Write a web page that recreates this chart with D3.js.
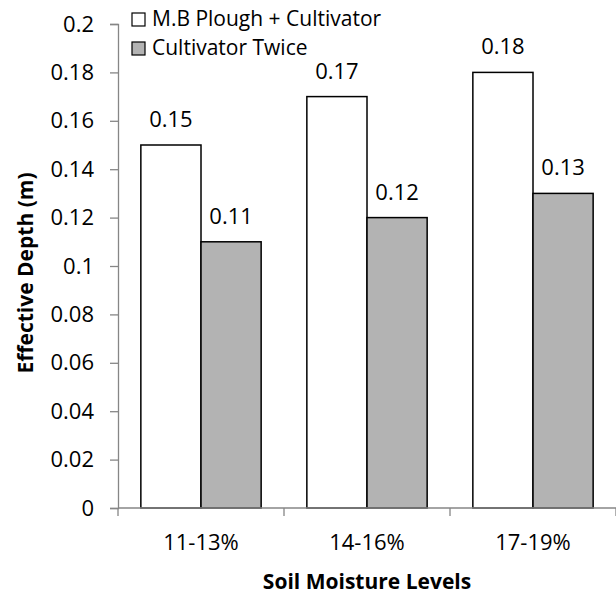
<!DOCTYPE html>
<html>
<head>
<meta charset="utf-8">
<script src="https://cdn.jsdelivr.net/npm/d3@7"></script>
<style>
  body { margin: 0; background: #fff; }
  svg text { font-family: 'Open Sans', sans-serif; fill: #000; }
</style>
</head>
<body>
<div id="chart"></div>
<script>
const categories = ['11-13%', '14-16%', '17-19%']
const seriesNames = ['M.B Plough + Cultivator', 'Cultivator Twice']
const ploughCultivator = [0.15, 0.17, 0.18]
const cultivatorTwice = [0.11, 0.12, 0.13]
const yTicks = [0, 0.02, 0.04, 0.06, 0.08, 0.1, 0.12, 0.14, 0.16, 0.18, 0.2]

const width = 616
const height = 596
const margin = { top: 24, right: 0, bottom: 88, left: 118 }
const colors = ['#ffffff', '#b3b3b3']
const axisColor = '#868686'
const fontSize = '22px'
const titleSize = '21px'

const data = categories.map((c, i) => ({
  category: c,
  values: [ploughCultivator[i], cultivatorTwice[i]]
}))

const svg = d3
  .select('#chart')
  .append('svg')
  .attr('width', width)
  .attr('height', height)

const x = d3
  .scaleBand()
  .domain(categories)
  .range([margin.left, width - margin.right])

const x1 = d3
  .scaleBand()
  .domain([0, 1])
  .range([0, x.bandwidth()])
  .paddingOuter(0.38)
  .paddingInner(0)

const y = d3
  .scaleLinear()
  .domain([0, 0.2])
  .range([height - margin.bottom, margin.top])

// bars
const groups = svg
  .append('g')
  .selectAll('g')
  .data(data)
  .join('g')
  .attr('transform', d => `translate(${x(d.category)},0)`)

groups
  .selectAll('rect')
  .data(d => d.values.map((v, k) => ({ v, k })))
  .join('rect')
  .attr('x', d => x1(d.k))
  .attr('y', d => y(d.v))
  .attr('width', x1.bandwidth())
  .attr('height', d => y(0) - y(d.v))
  .attr('fill', d => colors[d.k])
  .attr('stroke', '#000')
  .attr('stroke-width', 1.5)

groups
  .selectAll('text')
  .data(d => d.values.map((v, k) => ({ v, k })))
  .join('text')
  .attr('x', d => x1(d.k) + x1.bandwidth() / 2)
  .attr('y', d => y(d.v) - 18)
  .attr('text-anchor', 'middle')
  .style('font-size', fontSize)
  .text(d => d3.format('.2f')(d.v))

// y axis
const yAxis = svg
  .append('g')
  .attr('transform', `translate(${margin.left},0)`)
  .call(
    d3.axisLeft(y)
      .tickValues(yTicks)
      .tickSize(8)
      .tickPadding(16)
      .tickFormat(d => (d === 0 ? '0' : String(+d.toFixed(2))))
  )
yAxis.select('.domain').attr('stroke', axisColor).attr('stroke-width', 1.3)
yAxis.selectAll('.tick line').attr('stroke', axisColor).attr('stroke-width', 1.3)
yAxis.selectAll('.tick text').style('font-size', fontSize).attr('fill', '#000')

// x axis
const xAxis = svg
  .append('g')
  .attr('transform', `translate(0,${y(0)})`)
xAxis
  .append('line')
  .attr('x1', margin.left)
  .attr('x2', width)
  .attr('stroke', axisColor)
  .attr('stroke-width', 1.3)
xAxis
  .selectAll('line.tk')
  .data(categories.concat(['end']))
  .join('line')
  .attr('class', 'tk')
  .attr('x1', (d, i) => margin.left + i * x.step())
  .attr('x2', (d, i) => margin.left + i * x.step())
  .attr('y1', 0)
  .attr('y2', 8)
  .attr('stroke', axisColor)
  .attr('stroke-width', 1.3)
xAxis
  .selectAll('text')
  .data(categories)
  .join('text')
  .attr('x', d => x(d) + x.bandwidth() / 2)
  .attr('y', 42)
  .attr('text-anchor', 'middle')
  .style('font-size', fontSize)
  .text(d => d)

// axis titles
svg
  .append('text')
  .attr('x', margin.left + (width - margin.left) / 2)
  .attr('y', 589)
  .attr('text-anchor', 'middle')
  .style('font-size', titleSize)
  .style('font-weight', 'bold')
  .text('Soil Moisture Levels')

svg
  .append('text')
  .attr('transform', `translate(33,273) rotate(-90)`)
  .attr('text-anchor', 'middle')
  .style('font-size', titleSize)
  .style('font-weight', 'bold')
  .text('Effective Depth (m)')

// legend
const legend = svg
  .append('g')
  .selectAll('g')
  .data(seriesNames)
  .join('g')
  .attr('transform', (d, i) => `translate(132,${13 + i * 29})`)

legend
  .append('rect')
  .attr('width', 13)
  .attr('height', 13)
  .attr('fill', (d, i) => colors[i])
  .attr('stroke', '#000')
  .attr('stroke-width', 1.2)

legend
  .append('text')
  .attr('x', 20)
  .attr('y', 13)
  .style('font-size', '21px')
  .text(d => d)
</script>
</body>
</html>
